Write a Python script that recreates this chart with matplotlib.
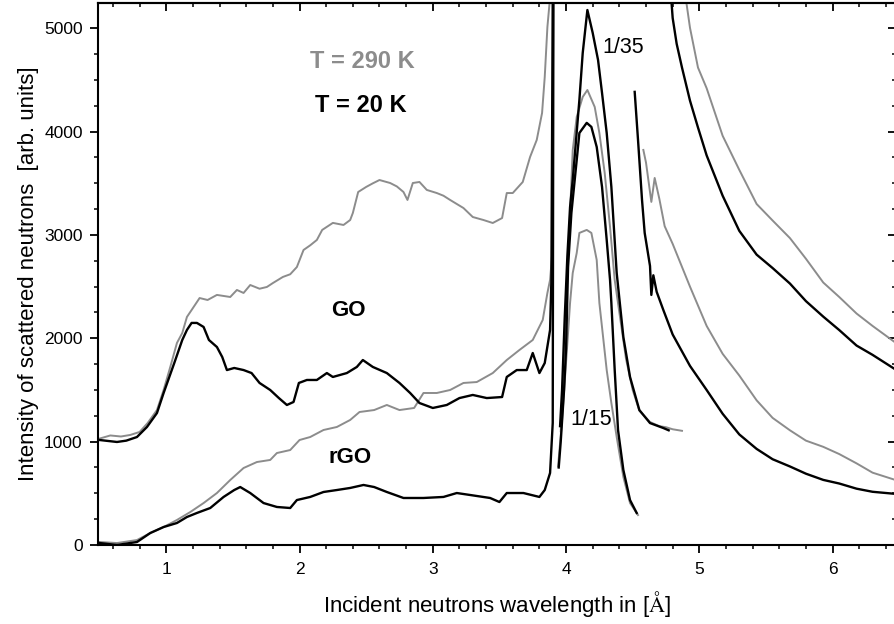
import matplotlib
matplotlib.use("Agg")
import matplotlib.pyplot as plt
from matplotlib.ticker import MultipleLocator

plt.rcParams["font.family"] = ["Liberation Sans", "DejaVu Sans"]
plt.rcParams["mathtext.fontset"] = "stix"

GRAY = "#8c8c8c"

# ── GO, T = 290 K ─────────────────────────────────────────────────────────────
go290_x = [0.50, 0.58, 0.66, 0.73, 0.80, 0.86, 0.93, 0.98, 1.03, 1.08, 1.12, 1.155, 1.19, 1.25,
           1.31, 1.38, 1.48, 1.53, 1.58, 1.63, 1.70, 1.755, 1.80, 1.875, 1.93, 1.98, 2.03, 2.08,
           2.13, 2.17, 2.25, 2.33, 2.38, 2.40, 2.44, 2.50, 2.55, 2.60, 2.68, 2.73, 2.78, 2.81,
           2.85, 2.90, 2.955, 3.03, 3.08, 3.13, 3.18, 3.23, 3.30, 3.38, 3.45, 3.52, 3.555, 3.60,
           3.675, 3.73, 3.78, 3.82, 3.84, 3.86, 3.88]
go290_y = [1030, 1060, 1050, 1065, 1094, 1180, 1306, 1500, 1723, 1955, 2052, 2207, 2274, 2390,
           2371, 2420, 2400, 2468, 2439, 2516, 2480, 2497, 2535, 2594, 2620, 2690, 2855, 2900,
           2952, 3049, 3117, 3097, 3145, 3213, 3416, 3465, 3500, 3532, 3503, 3470, 3416, 3339,
           3503, 3513, 3436, 3406, 3380, 3339, 3300, 3261, 3174, 3145, 3116, 3164, 3406, 3406,
           3513, 3755, 3920, 4181, 4529, 5013, 5300]
go290_pk_x = [3.96, 3.98, 4.00, 4.02, 4.05, 4.08, 4.125, 4.16, 4.215, 4.25, 4.29, 4.33, 4.365,
              4.40, 4.45, 4.50, 4.55, 4.63, 4.70, 4.75, 4.80, 4.87]
go290_pk_y = [1100, 1700, 2300, 2900, 3820, 4143, 4336, 4403, 4239, 3987, 3600, 3078, 2565,
              2250, 1800, 1500, 1300, 1190, 1150, 1140, 1120, 1105]
go290_tail_x = [4.90, 4.93, 4.99, 5.055, 5.175, 5.30, 5.43, 5.55, 5.68, 5.80, 5.93, 6.05, 6.18,
                6.30, 6.47]
go290_tail_y = [5275, 5005, 4620, 4420, 3960, 3630, 3300, 3140, 2970, 2770, 2540, 2400, 2240,
                2120, 1960]

# ── GO, T = 20 K ──────────────────────────────────────────────────────────────
go20_x = [0.50, 0.63, 0.70, 0.78, 0.855, 0.93, 0.98, 1.06, 1.12, 1.155, 1.19, 1.23, 1.28, 1.32,
          1.38, 1.42, 1.455, 1.51, 1.58, 1.64, 1.70, 1.78, 1.845, 1.905, 1.955, 1.995, 2.055,
          2.13, 2.205, 2.25, 2.355, 2.43, 2.475, 2.55, 2.655, 2.75, 2.83, 2.90, 3.00, 3.105,
          3.20, 3.30, 3.405, 3.52, 3.555, 3.63, 3.705, 3.75, 3.80, 3.84, 3.88, 3.89, 3.90]
go20_y = [1016, 997, 1010, 1045, 1142, 1277, 1471, 1761, 1984, 2081, 2149, 2149, 2110, 1984,
          1916, 1819, 1693, 1713, 1693, 1664, 1568, 1500, 1422, 1355, 1384, 1568, 1597,
          1597, 1664, 1626, 1664, 1723, 1790, 1723, 1664, 1568, 1471, 1374, 1326, 1355,
          1422, 1452, 1422, 1432, 1626, 1693, 1693, 1858, 1664, 1761, 2081, 2565, 5300]
go20_pk_x = [3.955, 3.97, 3.99, 4.01, 4.03, 4.05, 4.10, 4.125, 4.16, 4.20, 4.24, 4.27, 4.305,
             4.34, 4.38, 4.43, 4.48, 4.55, 4.63, 4.73, 4.77]
go20_pk_y = [1150, 1500, 2200, 2800, 3270, 3532, 4307, 4761, 5177, 4955, 4694, 4374, 3987,
             3465, 2632, 2013, 1626, 1306, 1180, 1132, 1110]
go20_tail_x = [4.79, 4.80, 4.83, 4.87, 4.93, 4.99, 5.055, 5.175, 5.30, 5.43, 5.55, 5.68, 5.80,
               5.93, 6.05, 6.18, 6.30, 6.47]
go20_tail_y = [5275, 5100, 4850, 4620, 4300, 4040, 3770, 3380, 3040, 2810, 2680, 2530, 2360,
               2210, 2080, 1930, 1840, 1700]

# ── rGO, T = 290 K ────────────────────────────────────────────────────────────
rgo290_x = [0.50, 0.63, 0.78, 0.88, 0.98, 1.08, 1.18, 1.28, 1.38, 1.48, 1.58, 1.68, 1.78, 1.83,
            1.93, 2.00, 2.08, 2.18, 2.28, 2.38, 2.45, 2.56, 2.655, 2.75, 2.86, 2.93, 3.03, 3.13,
            3.23, 3.33, 3.45, 3.555, 3.65, 3.75, 3.825, 3.86, 3.88, 3.895, 3.905]
rgo290_y = [29, 19, 48, 116, 174, 242, 319, 406, 503, 629, 745, 803, 823, 890,
            919, 1016, 1045, 1113, 1142, 1210, 1287, 1306, 1355, 1306, 1326, 1471, 1471, 1500,
            1568, 1577, 1664, 1790, 1887, 1984, 2178, 2439, 2565, 2800, 5300]
rgo290_pk_x = [3.94, 3.97, 4.005, 4.03, 4.05, 4.08, 4.10, 4.155, 4.19, 4.23, 4.25, 4.305, 4.34,
               4.38, 4.43, 4.48, 4.54]
rgo290_pk_y = [760, 1210, 1860, 2342, 2632, 2826, 3020, 3049, 3020, 2758, 2342, 1693, 1374,
               1045, 658, 406, 290]
rgo290_tail_x = [4.58, 4.60, 4.64, 4.665, 4.70, 4.74, 4.80, 4.93, 5.055, 5.175, 5.30, 5.43,
                 5.55, 5.68, 5.80, 5.93, 6.05, 6.18, 6.30, 6.47]
rgo290_tail_y = [3823, 3700, 3320, 3552, 3350, 3085, 2914, 2500, 2120, 1850, 1640, 1400,
                 1230, 1110, 1010, 950, 880, 790, 700, 630]

# ── rGO, T = 20 K ─────────────────────────────────────────────────────────────
rgo20_x = [0.50, 0.63, 0.78, 0.88, 0.98, 1.08, 1.155, 1.23, 1.33, 1.43, 1.51, 1.555, 1.63, 1.73,
           1.83, 1.93, 1.98, 2.08, 2.18, 2.28, 2.38, 2.48, 2.56, 2.655, 2.78, 2.93, 3.08, 3.18,
           3.28, 3.43, 3.50, 3.555, 3.68, 3.80, 3.84, 3.88, 3.90, 3.905]
rgo20_y = [19, 0, 29, 116, 174, 213, 271, 310, 358, 465, 532, 561, 503, 406,
           368, 358, 435, 465, 513, 532, 552, 581, 561, 513, 455, 455, 465, 503,
           484, 455, 416, 503, 503, 465, 532, 697, 1181, 5300]
rgo20_pk_x = [3.945, 3.96, 3.985, 4.00, 4.015, 4.04, 4.08, 4.10, 4.155, 4.19, 4.23, 4.27, 4.305,
              4.33, 4.34, 4.365, 4.39, 4.43, 4.48, 4.53]
rgo20_pk_y = [750, 1000, 1500, 1900, 2690, 3213, 3726, 3987, 4085, 4046, 3852, 3465, 2952,
              2565, 2342, 1693, 1113, 726, 435, 310]
rgo20_tail_x = [4.515, 4.54, 4.57, 4.59, 4.63, 4.64, 4.655, 4.68, 4.73, 4.80, 4.93, 5.055, 5.175,
                5.30, 5.43, 5.55, 5.68, 5.80, 5.93, 6.05, 6.18, 6.30, 6.47]
rgo20_tail_y = [4385, 3920, 3339, 3020, 2700, 2420, 2610, 2450, 2274, 2037, 1733, 1500, 1270,
                1070, 930, 830, 760, 690, 630, 595, 545, 515, 495]

fig = plt.figure(figsize=(8.94, 6.24), dpi=100)
ax = fig.add_axes([0.1096, 0.1266, 0.8925, 0.8686])

gray_sets = [(go290_x, go290_y), (go290_pk_x, go290_pk_y), (go290_tail_x, go290_tail_y),
             (rgo290_x, rgo290_y), (rgo290_pk_x, rgo290_pk_y), (rgo290_tail_x, rgo290_tail_y)]
black_sets = [(go20_x, go20_y), (go20_pk_x, go20_pk_y), (go20_tail_x, go20_tail_y),
              (rgo20_x, rgo20_y), (rgo20_pk_x, rgo20_pk_y), (rgo20_tail_x, rgo20_tail_y)]
for xs, ys in gray_sets:
    ax.plot(xs, ys, color=GRAY, linewidth=1.4)
for xs, ys in black_sets:
    ax.plot(xs, ys, color="black", linewidth=1.7)

ax.set_xlim(0.4875, 6.475)
ax.set_ylim(0, 5245)

ax.xaxis.set_major_locator(MultipleLocator(1))
ax.xaxis.set_minor_locator(MultipleLocator(0.2))
ax.yaxis.set_major_locator(MultipleLocator(1000))
ax.yaxis.set_minor_locator(MultipleLocator(250))
ax.tick_params(which="major", direction="out", length=6, width=1.3, labelsize=12.5, pad=5)
ax.tick_params(which="minor", direction="out", length=3, width=1.1)
ax.tick_params(axis="x", which="major", pad=6)

# mirrored ticks on top/right point inward
top = ax.secondary_xaxis("top")
top.xaxis.set_major_locator(MultipleLocator(1))
top.xaxis.set_minor_locator(MultipleLocator(0.2))
top.tick_params(which="major", direction="in", length=6, width=1.3, labeltop=False)
top.tick_params(which="minor", direction="in", length=3, width=1.1)
right = ax.secondary_yaxis("right")
right.yaxis.set_major_locator(MultipleLocator(1000))
right.yaxis.set_minor_locator(MultipleLocator(250))
right.tick_params(which="major", direction="in", length=6, width=1.3, labelright=False)
right.tick_params(which="minor", direction="in", length=3, width=1.1)

for sp in ax.spines.values():
    sp.set_linewidth(1.5)
for sec in (top, right):
    for sp in sec.spines.values():
        sp.set_linewidth(1.5)

ax.set_xlabel(r"Incident neutrons wavelength in [$\mathrm{\AA}$]", fontsize=16, labelpad=9)
ax.set_ylabel("Intensity of scattered neutrons  [arb. units]", fontsize=16, labelpad=4)

ax.text(2.08, 4675, "T = 290 K", color=GRAY, fontsize=17, fontweight="bold", va="center")
ax.text(2.115, 4250, "T = 20 K", color="black", fontsize=17, fontweight="bold", va="center")
ax.text(2.24, 2265, "GO", fontsize=16, fontweight="bold", va="center")
ax.text(2.22, 842, "rGO", fontsize=16, fontweight="bold", va="center")
ax.text(4.275, 4815, "1/35", fontsize=15.5, va="center")
ax.text(4.03, 1210, "1/15", fontsize=15.5, va="center")

fig.savefig("out.png", dpi=100)
